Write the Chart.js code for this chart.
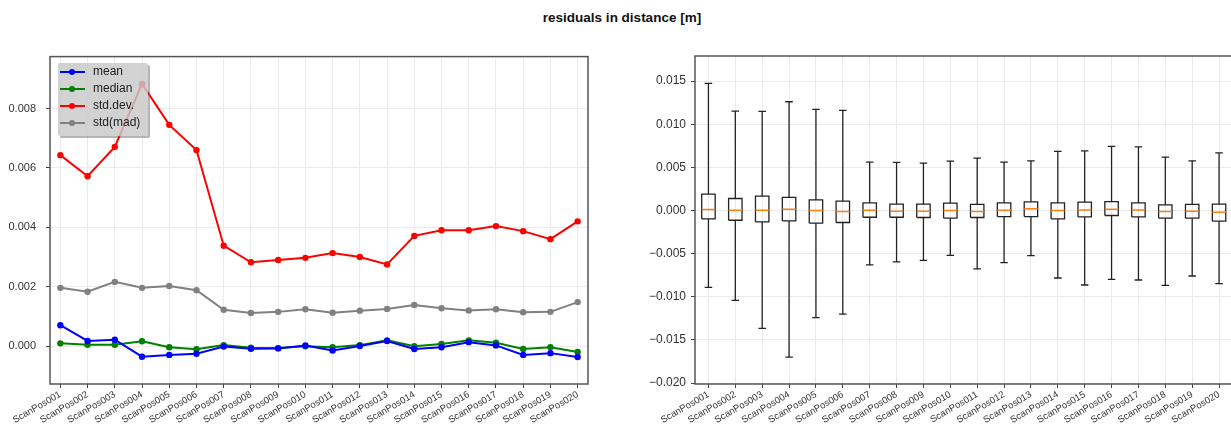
<!DOCTYPE html>
<html>
<head>
<meta charset="utf-8">
<script src="https://cdn.jsdelivr.net/npm/chart.js@4.4.1/dist/chart.umd.min.js"></script>
<style>
  html, body { margin: 0; padding: 0; background: #fff; }
  body { width: 1231px; height: 428px; overflow: hidden; position: relative; font-family: "Liberation Sans", Arial, sans-serif; }
  #title { position: absolute; top: 10px; left: 0; width: 1244px; text-align: center; font-weight: bold; font-size: 13.5px; color: #111; }
  canvas { position: absolute; top: 40px; }
  #leftChart { left: 0; }
  #rightChart { left: 640px; }
  #legend { position: absolute; left: 58px; top: 63px; width: 90px; height: 73px; background: rgba(200,200,200,0.82);
            border-radius: 2px; box-shadow: 2px 2px 0 rgba(90,90,90,0.45); }
  .row { position: absolute; left: 0; height: 14px; width: 90px; }
  .row .ln { position: absolute; left: 2px; top: 6px; width: 25px; height: 2px; }
  .row .dot { position: absolute; left: 11px; top: 4px; width: 6px; height: 6px; border-radius: 50%; }
  .row .tx { position: absolute; left: 35px; top: -1px; font-size: 12px; color: #222; }
</style>
</head>
<body>
<div id="title">residuals in distance [m]</div>
<canvas id="leftChart" width="600" height="388"></canvas>
<canvas id="rightChart" width="600" height="388"></canvas>
<div id="legend"></div>
<script>
// categorias (posições de scan)
const categories = ['ScanPos001', 'ScanPos002', 'ScanPos003', 'ScanPos004', 'ScanPos005',
    'ScanPos006', 'ScanPos007', 'ScanPos008', 'ScanPos009', 'ScanPos010',
    'ScanPos011', 'ScanPos012', 'ScanPos013', 'ScanPos014', 'ScanPos015',
    'ScanPos016', 'ScanPos017', 'ScanPos018', 'ScanPos019', 'ScanPos020'];

// gráfico da esquerda: estatísticas por posição
const meanVals = [0.00070, 0.00017, 0.00021, -0.00036, -0.00030, -0.00026, -0.00002, -0.00009, -0.00008, 0.00002,
    -0.00015, 0.00000, 0.00017, -0.00010, -0.00004, 0.00013, 0.00002, -0.00030, -0.00024, -0.00037];
const medianVals = [0.00009, 0.00004, 0.00004, 0.00016, -0.00004, -0.00011, 0.00003, -0.00006, -0.00007, -0.00001,
    -0.00004, 0.00003, 0.00019, -0.00001, 0.00007, 0.00019, 0.00011, -0.00010, -0.00004, -0.00020];
const stdVals = [0.00643, 0.00572, 0.00671, 0.00883, 0.00745, 0.00660, 0.00338, 0.00282, 0.00290, 0.00297,
    0.00313, 0.00300, 0.00275, 0.00371, 0.00390, 0.00390, 0.00404, 0.00387, 0.00360, 0.00420];
const madVals = [0.00196, 0.00183, 0.00216, 0.00196, 0.00202, 0.00188, 0.00122, 0.00111, 0.00115, 0.00124,
    0.00112, 0.00119, 0.00125, 0.00138, 0.00127, 0.00120, 0.00124, 0.00114, 0.00115, 0.00148];
const leftTicks = [0.000, 0.002, 0.004, 0.006, 0.008];

// gráfico da direita: boxplot (bigodes, quartis, mediana)
const whiskerHigh = [0.01473, 0.01152, 0.01148, 0.01260, 0.01172, 0.01160, 0.00560, 0.00557, 0.00549, 0.00572,
    0.00607, 0.00560, 0.00575, 0.00684, 0.00691, 0.00742, 0.00738, 0.00618, 0.00575, 0.00668];
const q3Vals = [0.00189, 0.00139, 0.00166, 0.00151, 0.00123, 0.00108, 0.00088, 0.00073, 0.00073, 0.00085,
    0.00070, 0.00088, 0.00100, 0.00088, 0.00096, 0.00104, 0.00088, 0.00065, 0.00070, 0.00073];
const boxMedian = [0.00012, 0.00003, 0.00003, 0.00015, 0.00000, -0.00012, 0.00003, -0.00008, -0.00008, 0.00000,
    -0.00012, 0.00003, 0.00019, 0.00000, 0.00007, 0.00015, 0.00007, -0.00012, -0.00008, -0.00020];
const q1Vals = [-0.00097, -0.00113, -0.00132, -0.00121, -0.00147, -0.00139, -0.00078, -0.00078, -0.00081, -0.00089,
    -0.00081, -0.00070, -0.00070, -0.00097, -0.00074, -0.00058, -0.00074, -0.00089, -0.00089, -0.00124];
const whiskerLow = [-0.00890, -0.01041, -0.01365, -0.01698, -0.01241, -0.01200, -0.00631, -0.00596, -0.00577, -0.00519,
    -0.00677, -0.00603, -0.00522, -0.00782, -0.00863, -0.00797, -0.00805, -0.00867, -0.00759, -0.00847];
const rightTicks = [-0.020, -0.015, -0.010, -0.005, 0.000, 0.005, 0.010, 0.015];

const seriesNames = ['mean', 'median', 'std.dev.', 'std(mad)'];
const seriesColors = ['#0000ff', '#008000', '#ff0000', '#808080'];

// moldura completa em volta da área do gráfico (como no matplotlib)
const framePlugin = {
    id: 'frame',
    afterDatasetsDraw(chart) {
        const { ctx, chartArea: a } = chart;
        ctx.save();
        ctx.strokeStyle = '#555';
        ctx.lineWidth = 1.5;
        ctx.strokeRect(a.left, a.top, a.right - a.left, a.bottom - a.top);
        ctx.restore();
    }
};

const fmt = v => (v < 0 ? '\u2212' : '') + Math.abs(v).toFixed(3);
const gridOpts = { color: '#ebebeb', lineWidth: 1, tickColor: '#444', tickLength: 4 };

function xAxis(min, max, start, height) {
    return {
        type: 'linear', min, max,
        grid: gridOpts,
        border: { display: false },
        afterBuildTicks: s => { s.ticks = categories.map((c, i) => ({ value: i + start })); },
        afterFit: s => { s.height = height; },
        ticks: {
            autoSkip: false, minRotation: 30, maxRotation: 30, padding: 1,
            color: '#333', font: { size: 9.5, family: 'Liberation Sans' },
            callback: v => categories[Math.round(v) - start]
        }
    };
}

function yAxis(min, max, tickVals, width, size, pad) {
    return {
        type: 'linear', min, max,
        grid: gridOpts,
        border: { display: false },
        afterBuildTicks: s => { s.ticks = tickVals.map(v => ({ value: v })); },
        afterFit: s => { s.width = width; },
        ticks: { color: '#333', padding: pad, font: { size, family: 'Liberation Sans' }, callback: fmt }
    };
}

// gráfico de linhas (esquerda)
const leftSeries = [meanVals, medianVals, stdVals, madVals];
new Chart(document.getElementById('leftChart'), {
    type: 'line',
    data: {
        datasets: leftSeries.map((vals, k) => ({
            label: seriesNames[k],
            data: vals.map((y, i) => ({ x: i, y })),
            borderColor: seriesColors[k],
            backgroundColor: seriesColors[k],
            borderWidth: 2,
            pointRadius: 3.2,
            pointBorderWidth: 0,
            pointHoverRadius: 3.2,
            tension: 0
        }))
    },
    options: {
        responsive: false,
        animation: false,
        layout: { padding: { left: 0, right: 12, top: 16, bottom: 0 } },
        scales: {
            x: xAxis(-0.38, 19.38, 0, 44),
            y: yAxis(-0.00128, 0.00975, leftTicks, 50, 11, 10)
        },
        plugins: { legend: { display: false }, tooltip: { enabled: false } }
    },
    plugins: [framePlugin]
});

// legenda em HTML, dentro da área do gráfico
const legendEl = document.getElementById('legend');
const rowTops = [2, 19, 36, 53];
seriesNames.forEach((name, k) => {
    const row = document.createElement('div');
    row.className = 'row';
    row.style.top = rowTops[k] + 'px';
    row.innerHTML = `<span class="ln" style="background:${seriesColors[k]}"></span>` +
        `<span class="dot" style="background:${seriesColors[k]}"></span><span class="tx">${name}</span>`;
    legendEl.appendChild(row);
});

// boxplot (direita) desenhado com linhas sobre escalas lineares
const halfBox = 0.25, halfCap = 0.14;
const whiskerPts = [], boxPts = [], medPts = [];
const gap = { x: NaN, y: null };
categories.forEach((c, i) => {
    const p = i + 1;
    whiskerPts.push({ x: p, y: q3Vals[i] }, { x: p, y: whiskerHigh[i] }, gap,
        { x: p, y: q1Vals[i] }, { x: p, y: whiskerLow[i] }, gap,
        { x: p - halfCap, y: whiskerHigh[i] }, { x: p + halfCap, y: whiskerHigh[i] }, gap,
        { x: p - halfCap, y: whiskerLow[i] }, { x: p + halfCap, y: whiskerLow[i] }, gap);
    boxPts.push({ x: p - halfBox, y: q1Vals[i] }, { x: p + halfBox, y: q1Vals[i] },
        { x: p + halfBox, y: q3Vals[i] }, { x: p - halfBox, y: q3Vals[i] },
        { x: p - halfBox, y: q1Vals[i] }, gap);
    medPts.push({ x: p - halfBox, y: boxMedian[i] }, { x: p + halfBox, y: boxMedian[i] }, gap);
});

const lineSet = (data, color, width) => ({
    data, borderColor: color, borderWidth: width, pointRadius: 0, pointHoverRadius: 0,
    showLine: true, spanGaps: false, tension: 0
});

new Chart(document.getElementById('rightChart'), {
    type: 'scatter',
    data: {
        datasets: [
            lineSet(medPts, '#ff7f0e', 1.5),
            lineSet(whiskerPts, '#222', 1.3),
            lineSet(boxPts, '#222', 1.3)
        ]
    },
    options: {
        responsive: false,
        animation: false,
        layout: { padding: { left: 0, right: 7.5, top: 16, bottom: 0 } },
        scales: {
            x: xAxis(0.5, 20.5, 1, 44),
            y: yAxis(-0.0201, 0.0179, rightTicks, 55, 12, 5)
        },
        plugins: { legend: { display: false }, tooltip: { enabled: false } }
    },
    plugins: [framePlugin]
});
</script>
</body>
</html>
